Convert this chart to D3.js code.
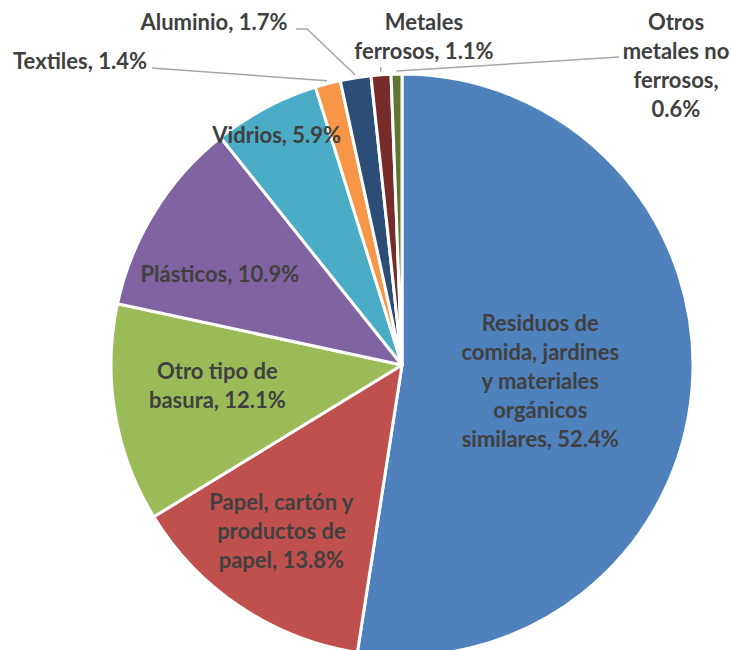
<!DOCTYPE html>
<html>
<head>
<meta charset="utf-8">
<script src="https://cdn.jsdelivr.net/npm/d3@7"></script>
<style>
  body { margin: 0; background: #fff; }
  text { font-family: Lato, "Open Sans", sans-serif; font-weight: 700; fill: #404040; }
</style>
</head>
<body>
<svg class="pie" width="732" height="650"></svg>
<script>
// data
const categories = ['Residuos de comida, jardines y materiales orgánicos similares',
  'Papel, cartón y productos de papel', 'Otro tipo de basura', 'Plásticos', 'Vidrios',
  'Textiles', 'Aluminio', 'Metales ferrosos', 'Otros metales no ferrosos']
const values = [52.4, 13.8, 12.1, 10.9, 5.9, 1.4, 1.7, 1.1, 0.6]
const labelLines = [
  ['Residuos de', 'comida, jardines', 'y materiales', 'orgánicos', 'similares, 52.4%'],
  ['Papel, cartón y', 'productos de', 'papel, 13.8%'],
  ['Otro tipo de', 'basura, 12.1%'],
  ['Plásticos, 10.9%'],
  ['Vidrios, 5.9%'],
  ['Textiles, 1.4%'],
  ['Aluminio, 1.7%'],
  ['Metales', 'ferrosos, 1.1%'],
  ['Otros', 'metales no', 'ferrosos,', '0.6%']
]
const colors = ['#4F81BD', '#C0504D', '#9BBB59', '#8064A2', '#4BACC6',
  '#F79646', '#2C4D75', '#772C2A', '#5F7530']

// layout
const svg = d3.select('.pie')
const cx = 402, cy = 365, radius = 291
const lineH = 29
const fontSize = '22px'
// inside labels: radius fraction + nudge
const inside = {
  0: { k: 0.48, dx: -1, dy: 13 },
  1: { k: 0.71, dx: -6, dy: 2 },
  2: { k: 0.64, dx: -1, dy: -3 },
  3: { k: 0.70, dx: -9, dy: 24 },
  4: { k: 0.89, dx: -4, dy: 7 }
}
// outside labels: text centre x, first baseline y, leader points after the arc point
const outside = {
  5: { x: 80, y: 69, pts: [[152, 68]] },
  6: { x: 214, y: 30, pts: [[307, 29], [296, 29]] },
  7: { x: 424, y: 30, pts: [[null, 67]] },
  8: { x: 676, y: 30, pts: [[619, 57]] }
}

const pie = d3.pie().sort(null).value(d => d)
const arcs = pie(values)
const arc = d3.arc().innerRadius(0).outerRadius(radius)

const g = svg.append('g').attr('transform', `translate(${cx},${cy})`)

g.selectAll('path.slice').data(arcs)
  .enter().append('path')
  .attr('class', 'slice')
  .attr('d', arc)
  .attr('fill', (d, i) => colors[i])
  .attr('stroke', '#fff')
  .attr('stroke-width', 3)
  .attr('stroke-linejoin', 'round')

// inside labels
arcs.forEach((d, i) => {
  const o = inside[i]
  if (!o) return
  const r = radius * o.k
  const c = d3.arc().innerRadius(r).outerRadius(r).centroid(d)
  const lines = labelLines[i]
  const t = g.append('text')
    .attr('text-anchor', 'middle')
    .style('font-size', fontSize)
  lines.forEach((s, k) => {
    t.append('tspan')
      .attr('x', c[0] + o.dx)
      .attr('y', c[1] + (k - (lines.length - 1) / 2) * lineH + o.dy)
      .text(s)
  })
})

// outside labels with leader lines
arcs.forEach((d, i) => {
  const o = outside[i]
  if (!o) return
  const mid = (d.startAngle + d.endAngle) / 2
  const sx = cx + Math.sin(mid) * (radius + 3)
  const sy = cy - Math.cos(mid) * (radius + 3)
  const pts = [[sx, sy]].concat(o.pts.map(p => [p[0] === null ? sx : p[0], p[1]]))
  svg.append('path')
    .attr('d', d3.line()(pts))
    .attr('fill', 'none')
    .attr('stroke', '#A6A6A6')
    .attr('stroke-width', 1.5)
  const lines = labelLines[i]
  const t = svg.append('text')
    .attr('text-anchor', 'middle')
    .style('font-size', fontSize)
  lines.forEach((s, k) => {
    t.append('tspan')
      .attr('x', o.x)
      .attr('y', o.y + k * lineH)
      .text(s)
  })
})
</script>
</body>
</html>
